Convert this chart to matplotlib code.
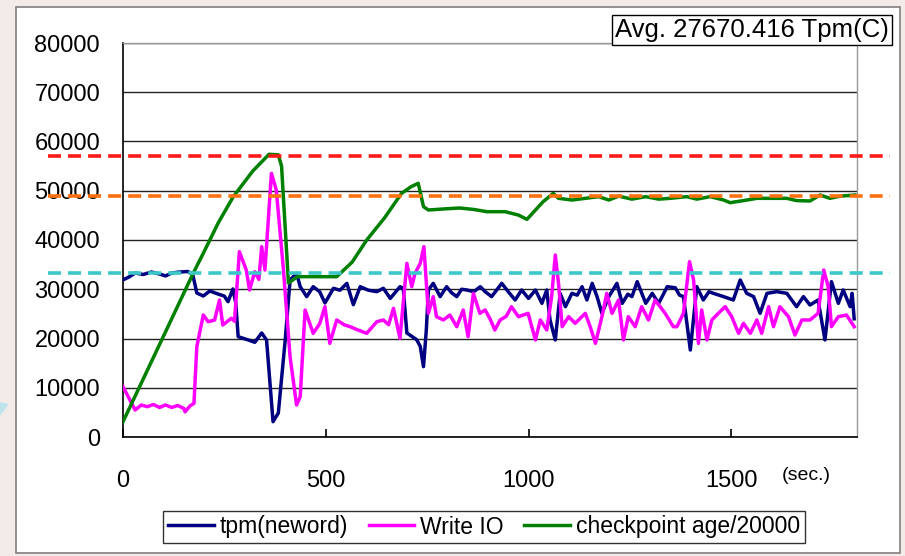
import matplotlib
matplotlib.use('Agg')
import matplotlib.pyplot as plt
from matplotlib.transforms import blended_transform_factory
from matplotlib.patches import Rectangle, Polygon
from matplotlib.lines import Line2D

plt.rcParams['font.family'] = ['Liberation Sans', 'DejaVu Sans']

# ---------------- data ----------------
tpm_t = [0, 15, 30, 50, 70, 90, 105, 120, 140, 160, 172, 182, 198, 214, 234, 250, 259, 271, 278,
         284, 309, 325, 342, 354, 370, 383, 400, 412, 428, 437, 453, 469, 485, 498, 519, 535, 552,
         568, 585, 605, 626, 642, 659, 683, 691, 700, 712, 724, 733, 741, 748, 753, 765, 782, 798,
         810, 823, 835, 848, 865, 881, 893, 909, 934, 950, 967, 983, 1000, 1017, 1033, 1045, 1053,
         1066, 1078, 1091, 1107, 1120, 1132, 1144, 1157, 1169, 1181, 1198, 1218, 1231, 1245, 1255,
         1268, 1289, 1305, 1321, 1342, 1362, 1372, 1382, 1399, 1415, 1431, 1445, 1456, 1481, 1505,
         1522, 1538, 1555, 1571, 1588, 1612, 1637, 1661, 1678, 1694, 1714, 1731, 1747, 1764, 1776,
         1793, 1798, 1803]
tpm_v = [31900, 32500, 33300, 33000, 33500, 33100, 32700, 33300, 33500, 33600, 33000, 29240, 28630,
         29650, 29040, 28600, 27480, 30060, 27270, 20370, 19700, 19230, 21120, 19700, 3110, 4870,
         19700, 31880, 33240, 30520, 28500, 30520, 29500, 27210, 30190, 29800, 31200, 26870, 30520,
         29800, 29510, 30200, 28140, 30520, 30190, 21120, 20440, 19770, 18410, 14280, 21800, 29850,
         31200, 28500, 30520, 29300, 28500, 30000, 29850, 29500, 30520, 29510, 28500, 31200, 29500,
         27820, 29850, 28140, 29850, 27140, 29850, 23760, 19700, 29170, 26460, 29170, 28800, 30520,
         27820, 31200, 28500, 25110, 28500, 31200, 27140, 29000, 28500, 31540, 27140, 29170, 27140,
         30520, 30300, 28830, 28500, 17660, 30520, 27820, 29500, 29170, 28500, 27820, 31880, 29170,
         28500, 25110, 29170, 29510, 29170, 26460, 28500, 26800, 27820, 19700, 31540, 27140, 29850,
         26460, 29170, 24000]

wio_t = [0, 30, 45, 60, 75, 90, 105, 120, 135, 150, 153, 165, 175, 182, 198, 210, 226, 238, 246,
         267, 275, 287, 304, 312, 325, 335, 342, 350, 366, 378, 395, 412, 428, 437, 449, 469, 485,
         498, 510, 527, 545, 560, 580, 601, 626, 642, 655, 667, 683, 700, 712, 720, 733, 742, 753,
         765, 773, 790, 806, 823, 839, 851, 864, 880, 893, 905, 917, 930, 945, 958, 975, 999, 1017,
         1029, 1045, 1057, 1066, 1074, 1083, 1099, 1115, 1140, 1152, 1165, 1181, 1193, 1206, 1222,
         1234, 1246, 1263, 1279, 1296, 1312, 1337, 1357, 1366, 1382, 1397, 1407, 1419, 1427, 1440,
         1452, 1468, 1485, 1501, 1518, 1530, 1547, 1563, 1575, 1592, 1604, 1620, 1641, 1657, 1674,
         1694, 1714, 1728, 1739, 1747, 1764, 1784, 1803]
wio_v = [10220, 5480, 6500, 6150, 6600, 6000, 6500, 6000, 6400, 5800, 5110, 6300, 6830, 18340,
         24770, 23410, 23750, 27820, 22730, 24100, 23500, 37630, 33900, 29850, 33560, 32000, 38650,
         33900, 53540, 50150, 34580, 16300, 6500, 8180, 25780, 21050, 23000, 26460, 19020, 23760,
         22800, 22400, 21700, 21050, 23410, 23760, 22800, 26120, 20030, 35260, 30520, 33220, 35260,
         38650, 25110, 28500, 24430, 23760, 24770, 22400, 25790, 20370, 29170, 25110, 25790, 24000,
         21730, 23760, 24500, 26460, 24430, 25110, 19700, 23760, 21730, 28500, 36950, 31200, 22400,
         24430, 23080, 25110, 22400, 19020, 24430, 29170, 25110, 27820, 19700, 24430, 22400, 26460,
         23760, 27820, 25110, 22400, 22400, 25110, 35600, 31880, 19020, 25790, 19700, 23760, 25110,
         26460, 24430, 21050, 23080, 21050, 23760, 21050, 26460, 22400, 26460, 24430, 20710, 23760,
         23760, 25110, 33900, 30520, 22400, 24430, 24770, 22400]

ckpt_t = [0, 100, 173, 198, 235, 272, 320, 360, 383, 391, 408, 430, 480, 527, 565, 601, 645, 687,
          710, 728, 741, 753, 790, 830, 865, 897, 942, 975, 996, 1036, 1061, 1074, 1107, 1140,
          1173, 1198, 1222, 1255, 1289, 1321, 1349, 1390, 1415, 1448, 1481, 1497, 1530, 1563,
          1596, 1637, 1661, 1694, 1719, 1743, 1768, 1805]
ckpt_v = [3100, 20500, 33240, 37300, 43500, 48800, 54000, 57400, 57300, 55000, 31260, 32550,
          32550, 32550, 35500, 40000, 44500, 49480, 50800, 51510, 46770, 46090, 46300, 46500,
          46200, 45750, 45750, 45070, 44190, 47780, 49470, 48460, 48120, 48460, 48800, 48120,
          48900, 48300, 48800, 48300, 48460, 48800, 48300, 48800, 48120, 47580, 48000, 48460,
          48460, 48460, 48000, 47920, 49140, 48460, 48900, 49140]

red_level = 57000
orange_level = 49000
cyan_level = 33200

xticks = [0, 500, 1000, 1500]
yticks = [0, 10000, 20000, 30000, 40000, 50000, 60000, 70000, 80000]
avg_text = 'Avg. 27670.416 Tpm(C)'
labels = ['tpm(neword)', 'Write IO', 'checkpoint age/20000']

# ---------------- figure ----------------
W, H = 905, 556
fig = plt.figure(figsize=(W / 100, H / 100), dpi=100)
fig.patch.set_facecolor('#f3ebe8')

card = Rectangle((16 / W, 1 - 553 / H), (900 - 16) / W, (553 - 7) / H,
                 transform=fig.transFigure, facecolor='white', edgecolor='#7f7f7f',
                 lw=1.2, zorder=0)
fig.add_artist(card)
tri = Polygon([(0, 1 - 402 / H), (9 / W, 1 - 404 / H), (0, 1 - 416 / H)], closed=True,
              transform=fig.transFigure, facecolor='#bfe3ec', edgecolor='none', zorder=0)
fig.add_artist(tri)

ax = fig.add_axes([123 / W, 1 - 437 / H, (857 - 123) / W, (437 - 43) / H])
ax.set_facecolor('white')
ax.set_xlim(0, 1810)
ax.set_ylim(0, 80000)

ax.set_yticks(yticks)
ax.set_xticks(xticks)
ax.set_yticklabels([str(v) for v in yticks])
ax.set_xticklabels([str(v) for v in xticks])
ax.yaxis.grid(True, color='#222222', lw=1.0)
ax.set_axisbelow(True)

for s in ['top', 'right']:
    ax.spines[s].set_color('#999999')
    ax.spines[s].set_linewidth(1.0)
for s in ['left', 'bottom']:
    ax.spines[s].set_color('black')
    ax.spines[s].set_linewidth(1.2)

ax.tick_params(axis='y', length=0, pad=16.5, labelsize=17)
ax.tick_params(axis='x', direction='in', length=6, width=1.2, pad=24, labelsize=17)

l1, = ax.plot(tpm_t, tpm_v, color='#000080', lw=2.5, zorder=3)
l2, = ax.plot(wio_t, wio_v, color='#ff00ff', lw=2.5, zorder=4)
l3, = ax.plot(ckpt_t, ckpt_v, color='#008000', lw=2.5, zorder=5)

tr = blended_transform_factory(fig.transFigure, ax.transData)
for lvl, col in [(red_level, '#ff1a1a'), (orange_level, '#ff7010'), (cyan_level, '#3cc8c8')]:
    ln = Line2D([48 / W, 890 / W], [lvl, lvl], transform=tr, color=col, lw=2.6,
                dashes=(3.6, 1.95), zorder=6)
    fig.add_artist(ln)

fig.text(806 / W, 1 - 476 / H, '(sec.)', ha='center', va='center', fontsize=14)

fig.text(752 / W, 1 - 30 / H, avg_text, ha='center', va='center', fontsize=18.5,
         bbox=dict(boxstyle='square,pad=0.1', facecolor='white', edgecolor='black', lw=1.0),
         zorder=7)

leg = fig.legend([l1, l2, l3], labels, loc='center', bbox_to_anchor=(484 / W, 1 - 527 / H),
                 ncol=3, frameon=True, fancybox=False, fontsize=16.5, handlelength=2.0,
                 handletextpad=0.25, columnspacing=0.9, borderpad=0.2, borderaxespad=0)
leg.get_frame().set_edgecolor('black')
leg.get_frame().set_linewidth(1.0)

fig.savefig('out.png', dpi=100, facecolor=fig.get_facecolor())
